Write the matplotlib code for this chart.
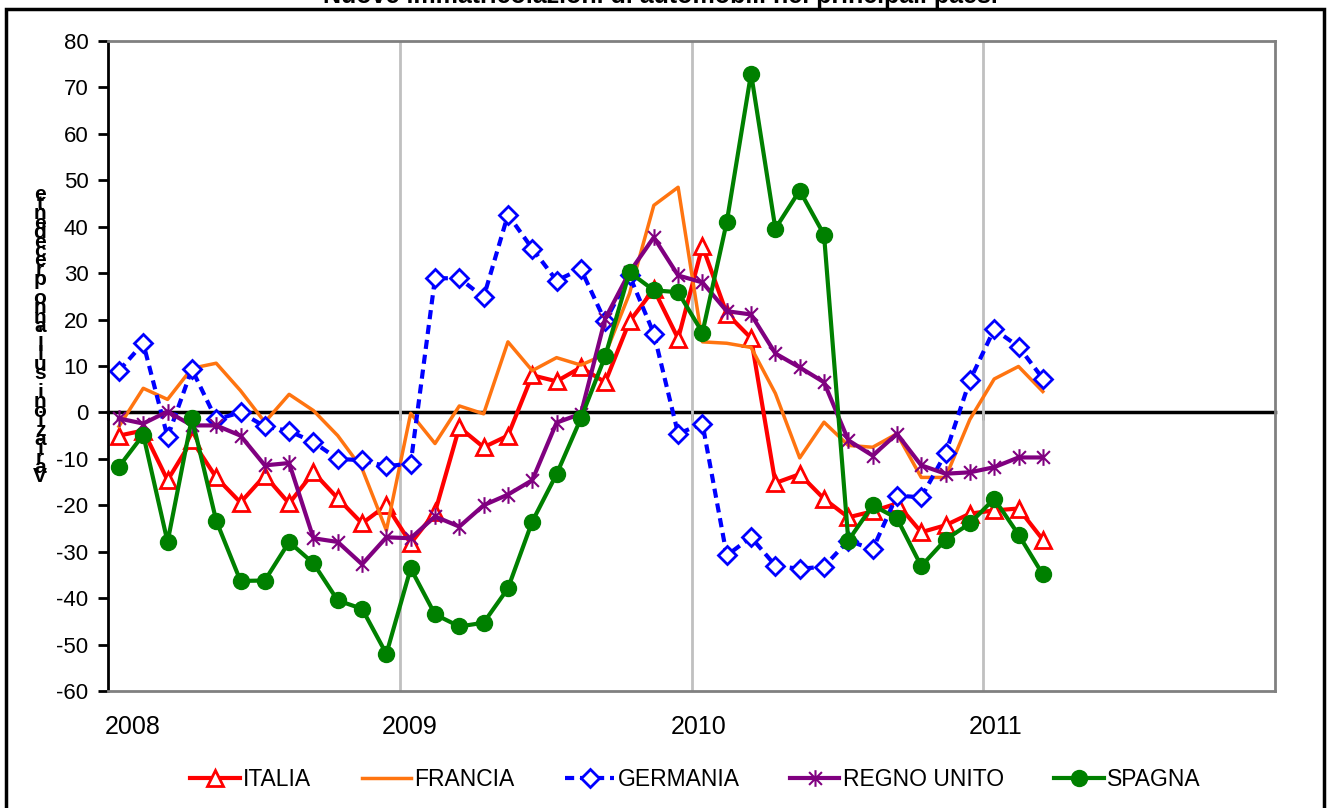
import numpy as np
import matplotlib.pyplot as plt
from matplotlib.path import Path
from matplotlib.patches import Rectangle

# monthly data, Jan 2008 - Mar 2011 (% change on same month of previous year)
months = np.arange(39)
italia = [-5.0, -3.9, -14.6, -6.0, -14.0, -19.4, -13.6, -19.6, -12.9, -18.5, -23.9, -20.0,
          -28.2, -21.5, -3.2, -7.5, -5.0, 8.0, 6.7, 9.7, 6.5, 19.6, 26.5, 15.9,
          35.8, 21.3, 16.0, -15.2, -13.3, -18.6, -22.6, -21.3, -19.6, -25.8, -24.3, -21.8,
          -21.1, -20.7, -27.4]
francia = [-3.0, 5.2, 2.8, 9.5, 10.6, 4.7, -2.1, 3.9, 0.4, -5.0, -12.1, -25.4,
           -0.2, -6.7, 1.4, -0.3, 15.2, 9.0, 11.8, 10.2, 12.5, 25.6, 44.6, 48.5,
           15.2, 14.9, 14.0, 4.1, -9.8, -2.1, -7.1, -7.5, -4.6, -14.0, -14.0, -1.5,
           7.2, 9.9, 4.5]
germania = [9.0, 14.9, -5.3, 9.3, -1.5, 0.0, -3.0, -4.0, -6.4, -10.0, -10.3, -11.6,
            -11.0, 28.9, 28.9, 24.8, 42.6, 35.3, 28.4, 30.9, 19.6, 29.5, 17.0, -4.6,
            -2.4, -30.8, -26.9, -33.0, -33.7, -33.2, -27.6, -29.5, -17.9, -18.3, -8.8, 6.9,
            17.9, 14.2, 7.3]
regno_unito = [-1.3, -2.4, 0.2, -2.8, -2.8, -5.0, -11.4, -10.9, -27.1, -27.9, -32.7, -26.9,
               -27.1, -22.4, -24.6, -20.0, -17.7, -14.6, -2.2, -0.3, 20.2, 30.2, 37.7, 29.5,
               28.0, 21.8, 21.1, 12.7, 9.7, 6.5, -6.0, -9.3, -4.6, -11.4, -13.2, -12.9,
               -11.8, -9.7, -9.7]
spagna = [-11.7, -4.8, -27.9, -1.2, -23.3, -36.3, -36.2, -27.9, -32.5, -40.5, -42.3, -52.0,
          -33.6, -43.5, -46.1, -45.3, -37.9, -23.5, -13.3, -1.3, 12.1, 30.2, 26.3, 25.9,
          17.2, 41.0, 73.0, 39.6, 47.8, 38.3, -27.6, -20.0, -22.8, -33.1, -27.4, -23.9,
          -18.6, -26.3, -34.9]
years = ['2008', '2009', '2010', '2011']
year_label_pos = [1.0, 12.4, 24.3, 36.5]

plt.rcParams['font.family'] = ['Liberation Sans', 'DejaVu Sans']
plt.rcParams['axes.unicode_minus'] = False

fig = plt.figure(figsize=(13.28, 8.08), dpi=100)
ax = fig.add_axes([108 / 1328, 1 - 691 / 808, (1275 - 108) / 1328, 650 / 808])

x = months + 0.45

# excel-like star marker: X with a vertical bar
star = Path([(-1, -1), (1, 1), (-1, 1), (1, -1), (0, -1.3), (0, 1.3)],
            [Path.MOVETO, Path.LINETO] * 3)

ax.plot(x, italia, color='#ff0000', lw=3, marker='^', ms=11, mfc='white',
        mec='#ff0000', mew=2, label='ITALIA')
ax.plot(x, francia, color='#ff7410', lw=2.5, label='FRANCIA')
ax.plot(x, germania, color='#0000ff', lw=3, ls=(0, (2.2, 1.4)), marker='D', ms=9,
        mfc='white', mec='#0000ff', mew=2, label='GERMANIA')
ax.plot(x, regno_unito, color='#800080', lw=3, marker=star, ms=12, mec='#800080',
        mew=1.5, label='REGNO UNITO')
ax.plot(x, spagna, color='#008000', lw=3, marker='o', ms=11.5, label='SPAGNA')

ax.set_xlim(0, 48)
ax.set_ylim(-60, 80)
ax.set_yticks(range(-60, 81, 10))
ax.set_xticks([12, 24, 36])
ax.set_xticks(year_label_pos, years, minor=True)
ax.tick_params(axis='x', which='major', length=0, labelbottom=False)
ax.tick_params(axis='x', which='minor', length=0, labelsize=18, pad=17)
ax.tick_params(axis='y', direction='out', length=7, width=2, labelsize=16, pad=7)
ax.grid(axis='x', which='major', color='#c0c0c0', lw=2)

for side in ['top', 'right', 'bottom']:
    ax.spines[side].set_color('#808080')
    ax.spines[side].set_linewidth(2)
ax.spines['left'].set_linewidth(2)

# zero axis with year ticks
zero = ax.secondary_xaxis(60 / 140)
zero.set_xticks([0, 12, 24, 36])
zero.set_xticklabels([])
zero.tick_params(direction='out', length=6, width=2, color='black')
zero.spines['bottom'].set_linewidth(2.5)

fig.legend(loc='center', bbox_to_anchor=(0.5237, 0.035), ncol=5, frameon=False,
           fontsize=16.5, handlelength=2.15, handletextpad=0.15, columnspacing=2.2)

fig.text(660 / 1328, 1 - 3 / 808,
         'Nuove immatricolazioni di automobili nei principali paesi',
         ha='center', va='baseline', fontsize=18, fontweight='bold')

ylab = "Variazioni sull'anno precedente"
fig.text(40 / 1328, 1 - 336 / 808, '\n'.join(ylab[::-1]), ha='center', va='center',
         fontsize=15, fontweight='bold', linespacing=0.36)

fig.patches.append(Rectangle((6 / 1328, -0.01), (1324 - 6) / 1328, 1.01 - 9 / 808,
                             transform=fig.transFigure, fill=False, ec='black', lw=2.5))

fig.savefig('out.png', dpi=100)
